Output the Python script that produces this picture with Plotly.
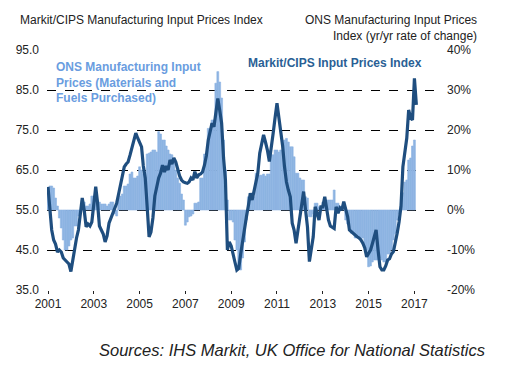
import pandas as pd
import plotly.graph_objects as go

# Markit/CIPS Manufacturing Input Prices Index, monthly Jan 2001 - Feb 2017
markit_index = [
    # 2001
    60.8, 55.0, 50.0, 47.5, 46.5, 44.5, 45.0, 44.5, 43.0, 42.5, 42.0, 41.5,
    # 2002
    39.6, 42.5, 45.8, 48.0, 50.0, 54.0, 58.0, 55.0, 50.8, 51.5, 51.0, 52.0,
    # 2003
    56.0, 60.8, 57.0, 51.0, 50.0, 49.0, 47.0, 48.5, 51.7, 53.0, 54.5, 55.5,
    # 2004
    56.7, 59.0, 61.5, 63.3, 65.8, 66.5, 67.0, 68.7, 70.5, 72.0, 74.2, 73.0,
    # 2005
    71.7, 70.8, 66.0, 63.0, 56.0, 48.3, 49.5, 53.0, 58.5, 61.0, 63.0, 64.2,
    # 2006
    66.2, 64.5, 66.0, 65.0, 67.5, 66.5, 68.0, 67.0, 65.0, 63.5, 62.5, 62.0,
    # 2007
    61.8, 61.7, 62.0, 63.0, 62.5, 64.6, 63.0, 63.8, 64.0, 64.5, 66.2, 68.5,
    # 2008
    72.5, 74.5, 76.7, 75.8, 79.0, 82.9, 80.0, 76.7, 68.0, 62.5, 45.0, 47.0,
    # 2009
    46.0, 44.2, 42.0, 40.0, 40.4, 44.0, 47.5, 50.0, 53.3, 56.0, 59.2, 57.5,
    # 2010
    60.0, 62.0, 64.2, 69.2, 71.5, 73.8, 72.0, 70.0, 67.1, 70.0, 74.2, 78.0,
    # 2011
    81.7, 78.0, 75.0, 71.0, 65.8, 62.0, 60.0, 58.3, 51.7, 50.0, 46.7, 50.0,
    # 2012
    52.5, 56.0, 59.6, 55.0, 50.8, 42.1, 45.0, 48.3, 55.8, 54.0, 52.5, 55.8,
    # 2013
    55.8, 58.3, 55.0, 52.5, 51.0, 50.8, 50.4, 55.8, 54.2, 55.5, 55.0, 57.1,
    # 2014
    55.0, 53.3, 50.0, 49.5, 49.2, 48.5, 48.3, 48.0, 47.5, 46.7, 45.5, 43.3,
    # 2015
    44.0, 45.0, 46.5, 48.0, 50.0, 45.0, 40.8, 40.0, 40.0, 41.0, 42.5, 42.8,
    # 2016
    44.0, 44.6, 46.5, 49.2, 52.0, 56.0, 65.8, 69.2, 73.0, 80.0, 78.0, 77.5,
    # 2017
    87.9, 81.3,
]

# ONS Manufacturing Input Prices (materials and fuels purchased), yr/yr %, Jan 2001 - Jan 2017
ons_yoy = [
    # 2001
    5.5, 6.0, 6.0, 5.5, 3.0, 1.0, -2.0, -4.5, -7.5, -10.0, -10.0, -9.0,
    # 2002
    -7.5, -7.0, -4.0, -4.0, -1.5, -1.0, 2.5, 2.0, 1.0, 1.0, 1.5, 3.5,
    # 2003
    3.5, 4.5, 2.5, 2.0, 1.5, 1.5, 1.5, 1.0, 1.5, 2.0, 2.0, -1.0,
    # 2004
    -1.5, 3.0, 3.5, 4.0, 6.0, 6.0, 6.5, 9.0, 9.5, 8.0, 8.0, 8.5,
    # 2005
    10.8, 10.0, 9.0, 7.5, 14.0, 14.2, 14.5, 15.0, 15.0, 14.5, 19.6, 19.0,
    # 2006
    17.5, 17.5, 16.0, 15.0, 14.0, 13.8, 12.0, 10.0, 8.0, 6.7, 4.0, 2.5,
    # 2007
    -3.8, -3.0, -1.7, -1.5, -1.0, 1.7, 1.7, 2.0, 8.0, 8.0, 14.0, 14.0,
    # 2008
    20.4, 20.0, 22.5, 22.5, 31.7, 34.6, 32.0, 28.0, 17.5, 10.0, 2.5, -2.5,
    # 2009
    -2.5, -3.0, -7.5, -10.0, -14.0, -15.0, -12.0, -8.0, -2.5, 3.3, 3.3, 3.5,
    # 2010
    3.3, 9.2, 9.2, 8.7, 8.7, 9.0, 8.5, 9.0, 9.0, 13.8, 13.8, 15.0,
    # 2011
    15.0, 14.5, 15.0, 15.0, 17.5, 17.9, 17.0, 15.8, 15.8, 13.3, 9.2, 9.2,
    # 2012
    8.0, 7.5, 7.5, 3.3, 3.0, -1.7, -1.7, -1.0, 1.7, 1.7, 0.8, 0.8,
    # 2013
    2.0, 1.7, 2.5, 2.5, 2.5, 2.5, 5.0, 1.7, 1.7, 1.0, 1.0, 1.0,
    # 2014
    -2.5, -3.5, -4.2, -5.8, -5.8, -7.0, -6.5, -7.0, -7.5, -7.0, -9.0, -10.0,
    # 2015
    -14.2, -14.0, -13.0, -12.5, -12.5, -12.5, -12.0, -12.5, -13.0, -13.0, -11.0, -11.0,
    # 2016
    -10.0, -7.5, -6.0, -2.5, -1.0, 1.0, 4.3, 7.0, 7.5, 12.5, 13.0, 16.0,
    # 2017
    17.5,
]

markit_dates = pd.date_range("2001-01-01", periods=len(markit_index), freq="MS")
ons_dates = pd.date_range("2001-01-01", periods=len(ons_yoy), freq="MS")
# each bar spans its full month (no gaps)
ons_widths = [(d + pd.offsets.MonthBegin(1) - d).days * 86400000 for d in ons_dates]

left_ticks = [35, 45, 55, 65, 75, 85, 95]
left_labels = ["35.0", "45.0", "55.0", "65.0", "75.0", "85.0", "95.0"]
right_ticks = [-20, -10, 0, 10, 20, 30, 40]
right_labels = ["-20%", "-10%", "0%", "10%", "20%", "30%", "40%"]

BAR = "#8db4e2"
LINE = "#1f4e7f"
FONT = "Liberation Sans, Arial, sans-serif"

fig = go.Figure()
fig.add_trace(go.Bar(
    x=ons_dates, y=ons_yoy, width=ons_widths, yaxis="y",
    marker=dict(color=BAR, line=dict(width=0.6, color=BAR)), name="ONS",
))
fig.add_trace(go.Scatter(
    x=markit_dates, y=markit_index, yaxis="y2", mode="lines",
    line=dict(color=LINE, width=3.2), name="Markit",
))

W, H = 506, 370
L, R, T, B = 47, 68, 50, 80
pw, ph = W - L - R, H - T - B


def px(x):
    return (x - L) / pw


def py(y):
    return (H - B - y) / ph


fig.update_layout(
    width=W, height=H,
    margin=dict(l=L, r=R, t=T, b=B, autoexpand=False),
    paper_bgcolor="white", plot_bgcolor="white",
    showlegend=False, bargap=0, hovermode=False,
    font=dict(family=FONT, size=12, color="#222222"),
    xaxis=dict(
        type="date", range=["2000-12-16", "2018-01-12"], automargin=False,
        tick0="2001-01-01", dtick="M24", tickformat="%Y",
        showgrid=False, zeroline=False, showline=False,
        ticks="outside", ticklen=3, tickcolor="#222222",
        tickfont=dict(size=12, color="#222222"),
    ),
    yaxis=dict(
        side="right", range=[-20, 40], tickvals=right_ticks, ticktext=right_labels,
        automargin=False,
        showgrid=True, gridcolor="#000000", griddash="dash", gridwidth=1,
        zeroline=False, showline=False, ticks="", ticklabelstandoff=8,
        tickfont=dict(size=12, color="#222222"),
    ),
    yaxis2=dict(
        side="left", overlaying="y", range=[35, 95], tickvals=left_ticks, ticktext=left_labels,
        automargin=False,
        showgrid=False, zeroline=False, showline=False, ticks="", ticklabelstandoff=7,
        tickfont=dict(size=12, color="#222222"),
    ),
    annotations=[
        dict(text="Markit/CIPS Manufacturing Input Prices Index", xref="paper", yref="paper",
             x=px(18), y=py(20), xanchor="left", yanchor="middle", showarrow=False,
             font=dict(size=12, color="#222222")),
        dict(text="ONS Manufacturing Input Prices<br>Index (yr/yr rate of change)", xref="paper", yref="paper",
             x=px(479), y=py(28), xanchor="right", yanchor="middle", align="right", showarrow=False,
             font=dict(size=12, color="#222222")),
        dict(text="<b>ONS Manufacturing Input<br>Prices (Materials and<br>Fuels Purchased)</b>",
             xref="paper", yref="paper", x=px(54), y=py(82), xanchor="left", yanchor="middle",
             align="left", showarrow=False, font=dict(size=12, color="#6a9de0")),
        dict(text="<b>Markit/CIPS Input Prices Index</b>", xref="paper", yref="paper",
             x=px(246), y=py(63), xanchor="left", yanchor="middle", showarrow=False,
             font=dict(size=12, color="#2a5f95")),
        dict(text="<i>Sources: IHS Markit, UK Office for National Statistics</i>", xref="paper", yref="paper",
             x=px(97), y=py(350), xanchor="left", yanchor="middle", showarrow=False,
             font=dict(size=16.5, color="#222222")),
    ],
)

fig.write_html("out.html", config={"displayModeBar": False, "staticPlot": True},
               post_script="document.body.style.margin='0';")
